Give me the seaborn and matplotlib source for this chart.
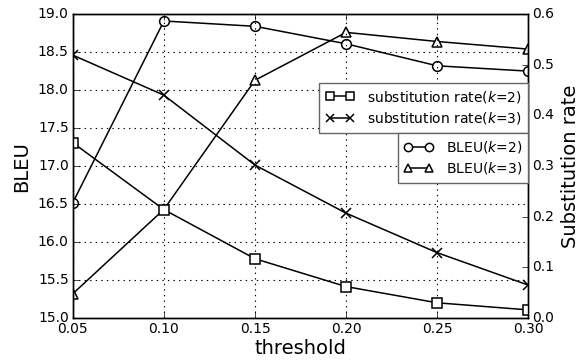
import matplotlib
matplotlib.use("Agg")
import matplotlib.pyplot as plt
import seaborn as sns
import pandas as pd

thresholds = [0.05, 0.10, 0.15, 0.20, 0.25, 0.30]
bleu_k2 = [16.52, 18.91, 18.84, 18.61, 18.32, 18.25]
bleu_k3 = [15.32, 16.43, 18.13, 18.76, 18.64, 18.54]
rate_k2 = [0.346, 0.214, 0.117, 0.062, 0.030, 0.016]
rate_k3 = [0.519, 0.440, 0.302, 0.207, 0.129, 0.065]

x_ticks = [0.05, 0.10, 0.15, 0.20, 0.25, 0.30]
bleu_ticks = [15.0, 15.5, 16.0, 16.5, 17.0, 17.5, 18.0, 18.5, 19.0]
rate_ticks = [0.0, 0.1, 0.2, 0.3, 0.4, 0.5, 0.6]

plt.style.use("classic")
plt.rcParams["font.family"] = ["DejaVu Sans"]
plt.rcParams["mathtext.fontset"] = "dejavusans"

fig = plt.figure(figsize=(5.83, 3.63), dpi=100, facecolor="white")
ax = fig.add_axes([0.125, 0.124, 0.781, 0.837])
ax2 = ax.twinx()

df = pd.DataFrame({"threshold": thresholds, "bleu_k2": bleu_k2, "bleu_k3": bleu_k3,
                   "rate_k2": rate_k2, "rate_k3": rate_k3})

common = dict(color="black", linewidth=1.1, markersize=7, markerfacecolor="white",
              markeredgecolor="black", markeredgewidth=1.1)

sns.lineplot(data=df, x="threshold", y="bleu_k2", ax=ax, marker="o",
             label="BLEU($k$=2)", legend=False, **common)
sns.lineplot(data=df, x="threshold", y="bleu_k3", ax=ax, marker="^",
             label="BLEU($k$=3)", legend=False, **common)
sns.lineplot(data=df, x="threshold", y="rate_k2", ax=ax2, marker="s",
             label="substitution rate($k$=2)", legend=False, **common)
sns.lineplot(data=df, x="threshold", y="rate_k3", ax=ax2, marker="x",
             label="substitution rate($k$=3)", legend=False, **common)

ax.set_xlim(0.05, 0.30)
ax.set_ylim(15.0, 19.0)
ax2.set_ylim(0.0, 0.6)
ax.set_xticks(x_ticks)
ax.set_xticklabels([f"{t:.2f}" for t in x_ticks], fontsize=10)
ax.set_yticks(bleu_ticks)
ax.set_yticklabels([f"{t:.1f}" for t in bleu_ticks], fontsize=10)
ax2.set_yticks(rate_ticks)
ax2.set_yticklabels([f"{t:.1f}" for t in rate_ticks], fontsize=10)

ax.set_xlabel("threshold", fontsize=14, labelpad=2)
ax.set_ylabel("BLEU", fontsize=14)
ax2.set_ylabel("Substitution rate", fontsize=14)

ax.grid(True, linestyle=":", color="black", linewidth=0.8)
ax.tick_params(direction="in", length=4, pad=3)
ax2.tick_params(direction="in", length=4, pad=3)

leg_kw = dict(fontsize=10, numpoints=2, handlelength=2.1, borderpad=0.45,
              labelspacing=0.4, handletextpad=0.9, borderaxespad=0.0,
              fancybox=False, framealpha=1.0, markerscale=0.85)
h1, l1 = ax.get_legend_handles_labels()
h2, l2 = ax2.get_legend_handles_labels()
leg_top = ax2.legend(h2, l2, loc="upper right", bbox_to_anchor=(1.0, 0.775), **leg_kw)
leg_top.get_frame().set_edgecolor("0.4")
ax2.add_artist(leg_top)
leg_bot = ax2.legend(h1, l1, loc="upper right", bbox_to_anchor=(1.0, 0.61), **leg_kw)
leg_bot.get_frame().set_edgecolor("0.4")

fig.savefig("out.png", dpi=100, facecolor="white")
